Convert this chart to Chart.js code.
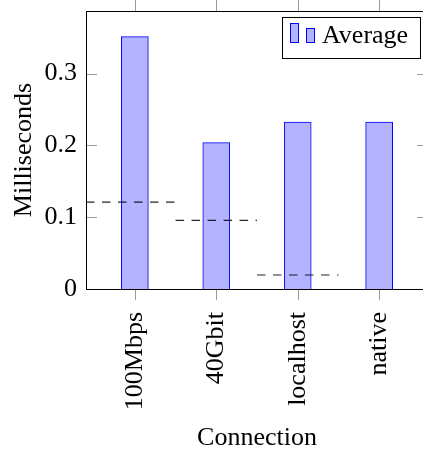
<!DOCTYPE html>
<html>
<head>
<meta charset="utf-8">
<script src="https://cdn.jsdelivr.net/npm/chart.js@4"></script>
<style>
  html, body { margin: 0; padding: 0; background: #fff; overflow: hidden; }
  #chart { position: absolute; left: 0; top: 0; }
</style>
</head>
<body>
<canvas id="chart" width="440" height="454"></canvas>
<script>
'use strict';

// data
const connections = ['100Mbps', '40Gbit', 'localhost', 'native'];
const average = [0.3514, 0.2038, 0.2325, 0.2325];
const refValue = [0.121, 0.0955, 0.0195];
const refFrom = [-0.6, 0.5, 1.5];
const refTo = [0.5, 1.5, 2.5];
const yTicks = [0, 0.1, 0.2, 0.3];

const font = 'Liberation Serif';
const fs = 26;
const tickGray = '#9a9a9a';

// dashed segments as one line dataset, broken with nulls
const refPoints = [];
refValue.forEach((v, i) => {
  refPoints.push({x: refFrom[i], y: v}, {x: refTo[i], y: v}, {x: refTo[i], y: null});
});

// frame, ticks and legend in the pgfplots manner
const frame = {
  id: 'frame',
  afterDraw(chart) {
    const c = chart.ctx, a = chart.chartArea;
    const xs = chart.scales.x, ys = chart.scales.y;
    c.save();
    c.strokeStyle = tickGray;
    c.lineWidth = 1;
    c.beginPath();
    connections.forEach((_, i) => {
      const px = Math.round(xs.getPixelForValue(i)) + 0.5;
      c.moveTo(px, a.bottom); c.lineTo(px, a.bottom + 11);
      c.moveTo(px, a.top); c.lineTo(px, a.top - 11);
    });
    yTicks.forEach(v => {
      const py = Math.round(ys.getPixelForValue(v)) + 0.5;
      c.moveTo(a.left, py); c.lineTo(a.left + 11, py);
      c.moveTo(a.right, py); c.lineTo(a.right - 11, py);
    });
    c.stroke();
    c.strokeStyle = '#000';
    c.strokeRect(Math.round(a.left) + 0.5, Math.round(a.top) + 0.5,
                 Math.round(a.right - a.left), Math.round(a.bottom - a.top));

    // legend
    const ds = chart.data.datasets[0];
    c.fillStyle = '#fff';
    c.fillRect(282, 17, 139, 42);
    c.strokeStyle = '#000';
    c.strokeRect(282.5, 17.5, 138, 41);
    c.fillStyle = ds.backgroundColor;
    c.strokeStyle = ds.borderColor;
    c.fillRect(290, 23, 9, 20); c.strokeRect(290.5, 23.5, 8, 19);
    c.fillRect(306, 28, 9, 15); c.strokeRect(306.5, 28.5, 8, 14);
    c.fillStyle = '#000';
    c.font = fs + 'px "' + font + '"';
    c.textBaseline = 'alphabetic';
    c.fillText(ds.label, 322, 43);
    c.restore();
  }
};

const noPad = s => { s.paddingTop = 0; s.paddingBottom = 0; s.paddingLeft = 0; s.paddingRight = 0; };

new Chart(document.getElementById('chart').getContext('2d'), {
  data: {
    datasets: [
      {
        type: 'bar', label: 'Average',
        data: average.map((v, i) => ({x: i, y: v})),
        backgroundColor: 'rgb(179,179,255)', borderColor: 'rgb(0,0,255)',
        borderWidth: 1, barThickness: 27, order: 2
      },
      {
        type: 'line', label: 'ref',
        data: refPoints, spanGaps: false,
        borderColor: 'rgba(0,0,0,0.85)', borderWidth: 1.2, borderDash: [8.5, 7.5],
        pointRadius: 0, fill: false, order: 1
      }
    ]
  },
  options: {
    responsive: false, animation: false,
    layout: {padding: {top: 11, right: 12, left: 0, bottom: 0}},
    plugins: {legend: {display: false}, tooltip: {enabled: false}},
    scales: {
      x: {
        type: 'linear', min: -0.6, max: 3.6, offset: false,
        afterBuildTicks: s => { s.ticks = connections.map((_, i) => ({value: i})); },
        afterFit: s => { s.height = 454 - 289; noPad(s); },
        grid: {display: false, drawTicks: false, offset: false}, border: {display: false},
        ticks: {
          autoSkip: false, minRotation: 90, maxRotation: 90, padding: 23,
          color: '#000', font: {family: font, size: fs},
          callback: v => connections[v]
        },
        title: {display: true, text: 'Connection', color: '#000',
                font: {family: font, size: fs}, padding: {top: 8, bottom: 0}}
      },
      y: {
        min: 0, max: 0.3872,
        afterBuildTicks: s => { s.ticks = yTicks.map(v => ({value: v})); },
        afterFit: s => { s.width = 86; noPad(s); },
        grid: {display: false, drawTicks: false}, border: {display: false},
        ticks: {padding: 9, color: '#000', font: {family: font, size: fs},
                callback: v => String(v)},
        title: {display: true, text: 'Milliseconds', color: '#000',
                font: {family: font, size: fs}, padding: {top: 9, bottom: 0}}
      }
    }
  },
  plugins: [frame]
});
</script>
</body>
</html>
